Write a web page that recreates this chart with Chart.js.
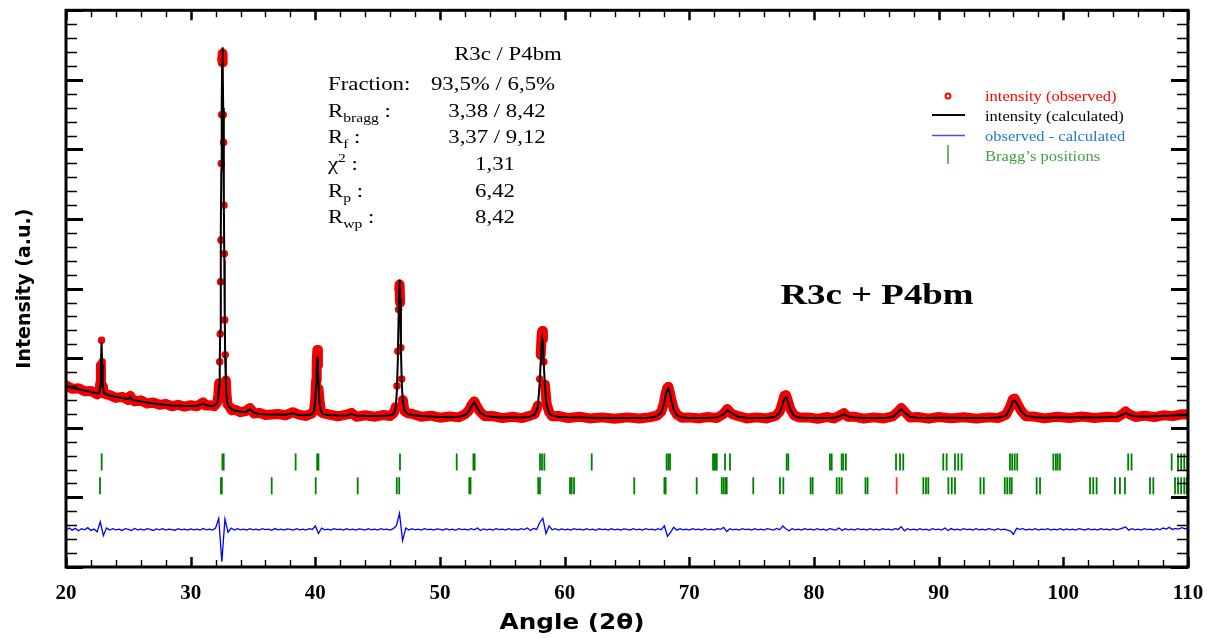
<!DOCTYPE html>
<html>
<head>
<meta charset="utf-8">
<title>Rietveld refinement R3c + P4bm</title>
<script src="https://cdn.jsdelivr.net/npm/chart.js@4.4.1/dist/chart.umd.min.js"></script>
<style>
  html, body { margin: 0; padding: 0; background: #fff; }
</style>
</head>
<body>
<canvas id="chart" width="1207" height="639"></canvas>
<script>
// 2theta points of the refined profile (denser over the peaks)
const angles = [
  20.0, 20.5, 21.0, 21.5, 22.0, 22.5,
  22.65, 22.75, 22.8, 22.85, 22.9, 22.95, 23.05,
  23.5, 24.0, 24.5, 25.0, 25.15, 25.3, 25.5, 26.0, 26.5, 27.0, 27.5, 28.0, 28.5, 29.0, 29.5, 30.0, 30.5, 30.8, 31.0, 31.2, 31.6, 31.9, 32.05,
  32.15, 32.22, 32.28, 32.33, 32.37, 32.40, 32.43, 32.46, 32.49, 32.52, 32.55, 32.58, 32.61, 32.64, 32.67, 32.70, 32.73, 32.77, 32.82, 32.88, 32.95,
  33.1, 33.3, 33.6, 34.0, 34.4, 34.75, 35.1, 35.5, 36.0, 37.0, 37.6, 38.2, 38.6, 39.2, 39.7,
  39.9, 40.0, 40.06, 40.11, 40.16, 40.21, 40.26, 40.33, 40.45, 40.6,
  41.0, 41.8, 42.5, 42.9, 43.3, 44.0, 44.8, 45.5, 46.0, 46.3,
  46.45, 46.55, 46.62, 46.68, 46.72, 46.76, 46.8, 46.86, 46.93, 47.02, 47.15, 47.4,
  47.8, 48.5, 49.3, 50.0, 50.8, 51.5, 52.0, 52.3, 52.55, 52.75, 52.95, 53.2, 53.6, 54.2, 55.0, 55.8, 56.6, 57.2, 57.6,
  57.85, 58.0, 58.08, 58.15, 58.2, 58.26, 58.33, 58.42, 58.55, 58.75, 59.0,
  59.5, 60.3, 61.2, 62.0, 63.0, 64.0, 65.0, 66.0, 66.8, 67.4,
  67.75, 67.95, 68.1, 68.22, 68.32, 68.42, 68.55, 68.75, 69.0, 69.4,
  70.0, 70.8, 71.5, 72.2, 72.7, 73.05, 73.4, 73.9, 74.6, 75.4, 76.2, 76.9, 77.25,
  77.45, 77.62, 77.75, 77.9, 78.1, 78.4, 78.8,
  79.5, 80.3, 81.0, 81.6, 82.1, 82.4, 82.7, 83.2, 84.0, 84.8, 85.6, 86.3, 86.7, 87.0, 87.3, 87.7, 88.3, 89.2, 90.0, 91.0,
  92.0, 93.0, 94.0, 94.8, 95.4, 95.7, 95.95, 96.1, 96.3, 96.6, 97.0, 97.6, 98.5, 99.5, 100.5, 101.5, 102.5, 103.5, 104.3, 104.75,
  105.0, 105.3, 105.8, 106.5, 107.3, 108.0, 108.8, 109.5, 110.0
];

const calculated = [
  2590, 2575, 2555, 2535, 2515, 2495,
  2490, 2600, 2850, 3230, 2900, 2620, 2500,
  2460, 2445, 2430, 2415, 2445, 2405, 2395, 2380, 2365, 2350, 2340, 2330, 2322, 2318, 2315, 2312, 2318, 2335, 2350, 2330, 2312, 2320, 2335,
  2370, 2450, 2600, 2900, 3400, 4000, 4800, 5700, 6600, 7250, 7470, 7200, 6600, 6000, 5300, 4400, 3600, 3000, 2650, 2450, 2350,
  2300, 2265, 2245, 2235, 2225, 2265, 2215, 2200, 2195, 2190, 2188, 2210, 2185, 2182, 2195,
  2240, 2400, 2620, 2850, 3020, 2850, 2600, 2380, 2240, 2200,
  2185, 2178, 2175, 2200, 2172, 2170, 2170, 2172, 2180, 2200,
  2280, 2550, 3000, 3600, 4000, 4130, 3850, 3200, 2650, 2380, 2250, 2200,
  2185, 2170, 2162, 2156, 2152, 2158, 2180, 2230, 2320, 2365, 2300, 2220, 2175, 2158, 2150, 2148, 2150, 2160, 2190,
  2300, 2650, 2950, 3200, 3270, 3150, 2900, 2600, 2330, 2210, 2175,
  2160, 2152, 2148, 2145, 2142, 2140, 2140, 2140, 2145, 2165,
  2220, 2330, 2460, 2540, 2565, 2510, 2400, 2260, 2180, 2150,
  2142, 2140, 2142, 2150, 2185, 2255, 2210, 2160, 2145, 2140, 2140, 2160, 2220,
  2320, 2420, 2440, 2380, 2260, 2175, 2148,
  2142, 2140, 2140, 2143, 2170, 2195, 2168, 2148, 2142, 2140, 2142, 2152, 2215, 2265, 2215, 2160, 2145, 2142, 2144, 2146,
  2142, 2140, 2142, 2148, 2175, 2270, 2380, 2395, 2340, 2240, 2175, 2152, 2146, 2148, 2150, 2152, 2150, 2152, 2160, 2185,
  2215, 2185, 2165, 2162, 2165, 2170, 2178, 2182, 2185
];

const observed = [
  2610, 2560, 2570, 2525, 2530, 2480,
  2500, 2640, 2900, 3260, 2950, 2600, 2490,
  2470, 2430, 2445, 2400, 2460, 2415, 2380, 2395, 2350, 2365, 2330, 2345, 2310, 2330, 2305, 2325, 2310, 2345, 2365, 2320, 2325, 2310, 2345,
  2380, 2470, 2640, 2950, 3350, 4100, 4700, 5800, 6500, 7300, 7380, 7250, 6500, 6100, 5200, 4500, 3550, 3050, 2680, 2460, 2340,
  2310, 2250, 2260, 2225, 2240, 2285, 2205, 2215, 2185, 2200, 2178, 2225, 2195, 2170, 2205,
  2250, 2430, 2680, 2950, 3120, 2900, 2560, 2400, 2230, 2210,
  2195, 2165, 2190, 2215, 2160, 2180, 2160, 2185, 2170, 2215,
  2300, 2600, 3100, 3700, 4000, 4060, 3800, 3150, 2700, 2400, 2240, 2210,
  2200, 2160, 2175, 2145, 2165, 2150, 2195, 2245, 2335, 2380, 2310, 2235, 2165, 2170, 2140, 2160, 2140, 2175, 2200,
  2320, 2700, 3050, 3330, 3390, 3280, 2950, 2620, 2350, 2230, 2165,
  2170, 2140, 2160, 2135, 2150, 2130, 2150, 2135, 2150, 2175,
  2230, 2350, 2490, 2570, 2590, 2520, 2410, 2270, 2190, 2145,
  2150, 2135, 2155, 2140, 2195, 2270, 2200, 2170, 2135, 2150, 2135, 2170, 2235,
  2350, 2460, 2470, 2390, 2270, 2180, 2150,
  2150, 2130, 2155, 2135, 2180, 2210, 2160, 2160, 2132, 2150, 2135, 2165, 2225, 2285, 2225, 2150, 2155, 2132, 2156, 2136,
  2152, 2132, 2150, 2140, 2190, 2290, 2410, 2420, 2350, 2250, 2165, 2162, 2136, 2158, 2140, 2162, 2142, 2160, 2150, 2200,
  2235, 2195, 2155, 2175, 2155, 2180, 2168, 2195, 2190
];

// observed - calculated (shifted), 2theta from 20 to 110 in 0.25 deg steps
const diffStart = 20;
const diffStep = 0.25;
const difference = [
  525, 560, 530, 555, 520, 550, 535, 565, 525, 545, 505, 650, 450, 560, 530, 550, 535, 545, 525, 550,
  540, 525, 555, 535, 545, 530, 550, 540, 525, 548, 535, 552, 530, 545, 538, 528, 550, 535, 545, 530,
  548, 535, 545, 530, 555, 535, 545, 530, 560, 700, 75, 690, 500, 560, 530, 550, 535, 545, 530, 550,
  535, 545, 530, 550, 538, 545, 528, 552, 535, 545, 530, 548, 540, 530, 552, 535, 545, 530, 550, 540,
  590, 480, 560, 535, 545, 530, 550, 538, 545, 530, 552, 535, 545, 530, 548, 540, 530, 550, 535, 545,
  530, 550, 538, 545, 530, 552, 590, 770, 380, 560, 530, 550, 535, 545, 530, 552, 538, 545, 530, 548,
  540, 530, 550, 535, 545, 528, 550, 538, 545, 530, 550, 535, 560, 525, 548, 535, 545, 530, 550, 538,
  545, 530, 552, 535, 545, 530, 550, 538, 560, 525, 555, 540, 640, 700, 480, 590, 535, 550, 530, 548,
  535, 545, 530, 552, 538, 545, 530, 550, 535, 545, 528, 550, 538, 545, 530, 552, 535, 545, 530, 548,
  540, 530, 550, 535, 545, 530, 552, 538, 545, 530, 550, 535, 590, 440, 500, 570, 530, 550, 535, 545,
  530, 550, 538, 545, 530, 552, 535, 545, 530, 550, 540, 570, 510, 550, 535, 545, 530, 550, 538, 545,
  530, 552, 535, 545, 530, 550, 540, 530, 555, 535, 590, 545, 520, 550, 535, 545, 530, 552, 538, 545,
  530, 550, 535, 545, 528, 552, 540, 530, 560, 525, 550, 535, 545, 530, 552, 538, 545, 530, 550, 535,
  545, 530, 552, 538, 545, 530, 550, 540, 580, 520, 550, 535, 545, 530, 552, 535, 545, 528, 550, 538,
  545, 530, 560, 525, 552, 535, 545, 530, 550, 538, 545, 530, 552, 535, 545, 530, 550, 540, 530, 552,
  535, 545, 530, 520, 470, 555, 540, 550, 530, 545, 535, 550, 530, 545, 538, 550, 530, 545, 535, 550,
  530, 548, 535, 545, 530, 552, 540, 530, 550, 535, 545, 530, 552, 538, 545, 530, 550, 535, 545, 560,
  575, 530, 550, 535, 545, 530, 552, 538, 545, 530, 550, 535, 560, 545, 570, 540, 555, 545, 565, 550,
  555
];

// Bragg reflection positions (2theta) of both phases
const braggR3c = [
  22.86, 32.55, 32.65, 38.42, 40.15, 40.25, 46.79, 51.34, 52.68, 52.78,
  58.02, 58.18, 58.37, 62.17, 68.18, 68.32, 68.45, 71.9, 72.0, 72.1, 72.2, 72.86, 73.26,
  77.81, 77.94, 81.28, 81.42, 82.22, 82.35, 82.56, 86.58, 86.9, 87.16, 90.37, 90.64,
  91.31, 91.57, 91.84, 95.72, 95.9, 96.1, 96.3, 99.2, 99.4, 99.55, 99.73,
  105.2, 105.47, 108.69, 109.2, 109.45, 109.7, 109.95
];
const braggP4bm = [
  22.73, 32.43, 32.5, 36.5, 40.03, 43.4, 46.53, 46.73, 52.35, 52.45,
  57.88, 58.02, 60.43, 60.56, 60.75, 65.58, 68.0, 68.1, 70.59, 72.6, 72.75, 72.9, 73.0,
  75.13, 77.27, 77.54, 79.73, 79.89, 81.82, 82.03, 82.22, 84.13, 84.3, 88.77, 88.98, 89.17,
  90.78, 91.05, 91.31, 93.35, 93.62, 95.3, 95.5, 95.7, 95.86, 97.86, 98.13,
  102.14, 102.4, 102.67, 104.14, 104.54, 104.94, 106.95, 107.22,
  108.96, 109.2, 109.45, 109.7, 109.9
];
const braggP4bmFlagged = [86.63];

const xTickValues = [20, 30, 40, 50, 60, 70, 80, 90, 100, 110];

const phaseHeader = 'R3c / P4bm';
const statLabels = [
  [{ t: 'Fraction:' }],
  [{ t: 'R' }, { t: 'bragg', sub: true }, { t: ' :' }],
  [{ t: 'R' }, { t: 'f', sub: true }, { t: ' :' }],
  [{ t: 'χ' }, { t: '2', sup: true }, { t: ' :' }],
  [{ t: 'R' }, { t: 'p', sub: true }, { t: ' :' }],
  [{ t: 'R' }, { t: 'wp', sub: true }, { t: ' :' }]
];
const statValues = ['93,5% / 6,5%', '3,38 / 8,42', '3,37 / 9,12', '1,31', '6,42', '8,42'];

const legendItems = [
  { text: 'intensity (observed)', color: '#ff0000' },
  { text: 'intensity (calculated)', color: '#000000' },
  { text: 'observed - calculated', color: '#1f78d2' },
  { text: 'Bragg\u2019s positions', color: '#3f9f3f' }
];

if (angles.length !== calculated.length || angles.length !== observed.length) {
  console.error('length mismatch', angles.length, calculated.length, observed.length);
}

// y levels of the two rows of reflection markers
const ROW1_LEVEL = 1510;
const ROW2_LEVEL = 1166;

const toPoints = (xs, ys) => xs.map((x, i) => ({ x: x, y: ys[i] }));
const diffPoints = difference.map((v, i) => ({ x: diffStart + i * diffStep, y: v }));
const rowPoints = (xs, level) => xs.map(x => ({ x: x, y: level }));

const SERIF = '"Liberation Serif", "Times New Roman", serif';
const SANS = '"DejaVu Sans", "Noto Sans", sans-serif';

// text helper: serif text slightly stretched horizontally like the original figure
function stretchText(ctx, text, x, y, font, stretch, align) {
  ctx.save();
  ctx.font = font;
  const w = ctx.measureText(text).width * stretch;
  let left = x;
  if (align === 'center') left = x - w / 2;
  if (align === 'right') left = x - w;
  ctx.translate(left, y);
  ctx.scale(stretch, 1);
  ctx.textAlign = 'left';
  ctx.textBaseline = 'alphabetic';
  ctx.fillText(text, 0, 0);
  ctx.restore();
  return w;
}

// same, but squeezed/stretched to a given total width
function fitText(ctx, text, cx, y, font, width) {
  ctx.save();
  ctx.font = font;
  const k = width / ctx.measureText(text).width;
  ctx.restore();
  stretchText(ctx, text, cx, y, font, k, 'center');
}

function drawParts(ctx, parts, x, y, size, stretch) {
  let cx = x;
  parts.forEach(p => {
    const small = p.sub || p.sup;
    const fs = small ? Math.round(size * 0.68) : size;
    const dy = p.sub ? size * 0.27 : (p.sup ? -size * 0.4 : 0);
    cx += stretchText(ctx, p.t, cx, y + dy, fs + 'px ' + SERIF, stretch, 'left');
  });
}

// frame with inward ticks on all four sides
const framePlugin = {
  id: 'frame',
  afterDatasetsDraw(chart) {
    const { ctx, chartArea: a, scales } = chart;
    const xs = scales.x, ys = scales.y;
    ctx.save();
    ctx.strokeStyle = '#000';
    ctx.lineCap = 'butt';
    // y ticks: major every 1000, minor every 200
    for (let v = 0; v <= 8000; v += 200) {
      const y = Math.round(ys.getPixelForValue(v)) + 0.5;
      const major = v % 1000 === 0;
      ctx.lineWidth = major ? 3 : 1.6;
      const len = major ? 17 : 11;
      ctx.beginPath();
      ctx.moveTo(a.left, y); ctx.lineTo(a.left + len, y);
      ctx.moveTo(a.right, y); ctx.lineTo(a.right - len, y);
      ctx.stroke();
    }
    // x ticks: major every 10, minor every 2
    for (let v = 20; v <= 110; v += 2) {
      const x = Math.round(xs.getPixelForValue(v)) + 0.5;
      const major = (v - 20) % 10 === 0;
      ctx.lineWidth = major ? 2.5 : 1.4;
      const len = major ? 10 : 7;
      ctx.beginPath();
      ctx.moveTo(x, a.bottom); ctx.lineTo(x, a.bottom - len);
      ctx.moveTo(x, a.top); ctx.lineTo(x, a.top + len);
      ctx.stroke();
    }
    ctx.lineWidth = 3;
    ctx.strokeRect(a.left, a.top, a.right - a.left, a.bottom - a.top);
    ctx.restore();
  }
};

// annotations, legend and axis titles
const textPlugin = {
  id: 'texts',
  afterDraw(chart) {
    const ctx = chart.ctx;
    const a = chart.chartArea;
    ctx.save();
    ctx.fillStyle = '#000';

    // refinement summary
    stretchText(ctx, phaseHeader, 508, 60, '19px ' + SERIF, 1.2, 'center');
    const rowY = [90, 117, 143, 170, 197, 223];
    const valX = [493, 497, 497, 495, 495, 495];
    statLabels.forEach((parts, i) => {
      drawParts(ctx, parts, 328, rowY[i], 19, 1.2);
      stretchText(ctx, statValues[i], valX[i], rowY[i], '19px ' + SERIF, 1.2, 'center');
    });

    // phase label
    stretchText(ctx, 'R3c + P4bm', 877, 304, 'bold 30px ' + SERIF, 1.23, 'center');

    // legend
    const ly = [101, 121, 141, 161];
    legendItems.forEach((it, i) => {
      ctx.fillStyle = it.color;
      stretchText(ctx, it.text, 985, ly[i], '15px ' + SERIF, 1.1, 'left');
    });
    ctx.strokeStyle = '#ff0000';
    ctx.lineWidth = 2;
    ctx.beginPath(); ctx.arc(948, 96, 2.5, 0, Math.PI * 2); ctx.stroke();
    ctx.strokeStyle = '#000';
    ctx.beginPath(); ctx.moveTo(932, 115); ctx.lineTo(965, 115); ctx.stroke();
    ctx.strokeStyle = '#4a4aff';
    ctx.lineWidth = 1.5;
    ctx.beginPath(); ctx.moveTo(932, 135.5); ctx.lineTo(965, 135.5); ctx.stroke();
    ctx.strokeStyle = '#3f9f3f';
    ctx.beginPath(); ctx.moveTo(948, 145); ctx.lineTo(948, 164); ctx.stroke();

    // axis titles
    ctx.fillStyle = '#000';
    fitText(ctx, 'Angle (2\u03b8)', 572, 629, 'bold 21px ' + SANS, 145);
    ctx.save();
    ctx.translate(30, (a.top + a.bottom) / 2);
    ctx.rotate(-Math.PI / 2);
    fitText(ctx, 'Intensity (a.u.)', 0, 0, 'bold 19px ' + SANS, 160);
    ctx.restore();
    ctx.restore();
  }
};

const chart = new Chart(document.getElementById('chart'), {
  type: 'scatter',
  data: {
    datasets: [
      {
        label: 'intensity (calculated)',
        data: toPoints(angles, calculated),
        showLine: true,
        borderColor: '#000',
        borderWidth: 2,
        pointRadius: 0,
        order: 0
      },
      {
        label: 'observed - calculated',
        data: diffPoints,
        showLine: true,
        borderColor: '#0000ff',
        borderWidth: 1.3,
        pointRadius: 0,
        order: 1
      },
      {
        label: 'R3c',
        data: rowPoints(braggR3c, ROW1_LEVEL),
        showLine: false,
        pointStyle: 'line',
        pointRotation: 90,
        pointRadius: 8.5,
        pointBorderWidth: 1.8,
        pointBorderColor: '#008000',
        order: 2
      },
      {
        label: 'P4bm',
        data: rowPoints(braggP4bm, ROW2_LEVEL),
        showLine: false,
        pointStyle: 'line',
        pointRotation: 90,
        pointRadius: 8.5,
        pointBorderWidth: 1.8,
        pointBorderColor: '#008000',
        order: 2
      },
      {
        label: 'P4bm (flagged)',
        data: rowPoints(braggP4bmFlagged, ROW2_LEVEL),
        showLine: false,
        pointStyle: 'line',
        pointRotation: 90,
        pointRadius: 8.5,
        pointBorderWidth: 1.8,
        pointBorderColor: '#ff3030',
        order: 2
      },
      {
        label: 'intensity (observed)',
        data: toPoints(angles, observed),
        showLine: true,
        borderColor: '#f20000',
        borderWidth: 10,
        borderCapStyle: 'round',
        borderJoinStyle: 'round',
        segment: {
          // thin line on steep flanks so single observations stay visible
          borderWidth: c => Math.abs(c.p1.y - c.p0.y) > 20 ? 1 : 10
        },
        pointRadius: 3,
        pointBorderWidth: 1.5,
        pointBackgroundColor: '#f20000',
        pointBorderColor: '#f20000',
        order: 3
      }
    ]
  },
  options: {
    responsive: false,
    animation: false,
    events: [],
    layout: { padding: { top: 8, right: 19, left: 0, bottom: 0 } },
    plugins: {
      legend: { display: false },
      tooltip: { enabled: false }
    },
    scales: {
      x: {
        type: 'linear',
        min: 20,
        max: 110,
        afterFit: s => { s.height = 72; s.paddingLeft = 0; s.paddingRight = 0; },
        afterBuildTicks: s => { s.ticks = xTickValues.map(v => ({ value: v })); },
        grid: { display: false, drawTicks: false },
        border: { display: false },
        ticks: {
          autoSkip: false,
          maxRotation: 0,
          padding: 14,
          color: '#000',
          font: { family: SERIF, size: 21, weight: 'bold' }
        }
      },
      y: {
        type: 'linear',
        min: 0,
        max: 8000,
        afterFit: s => { s.width = 66; },
        grid: { display: false, drawTicks: false },
        border: { display: false },
        ticks: { display: false }
      }
    }
  },
  plugins: [framePlugin, textPlugin]
});
</script>
</body>
</html>
